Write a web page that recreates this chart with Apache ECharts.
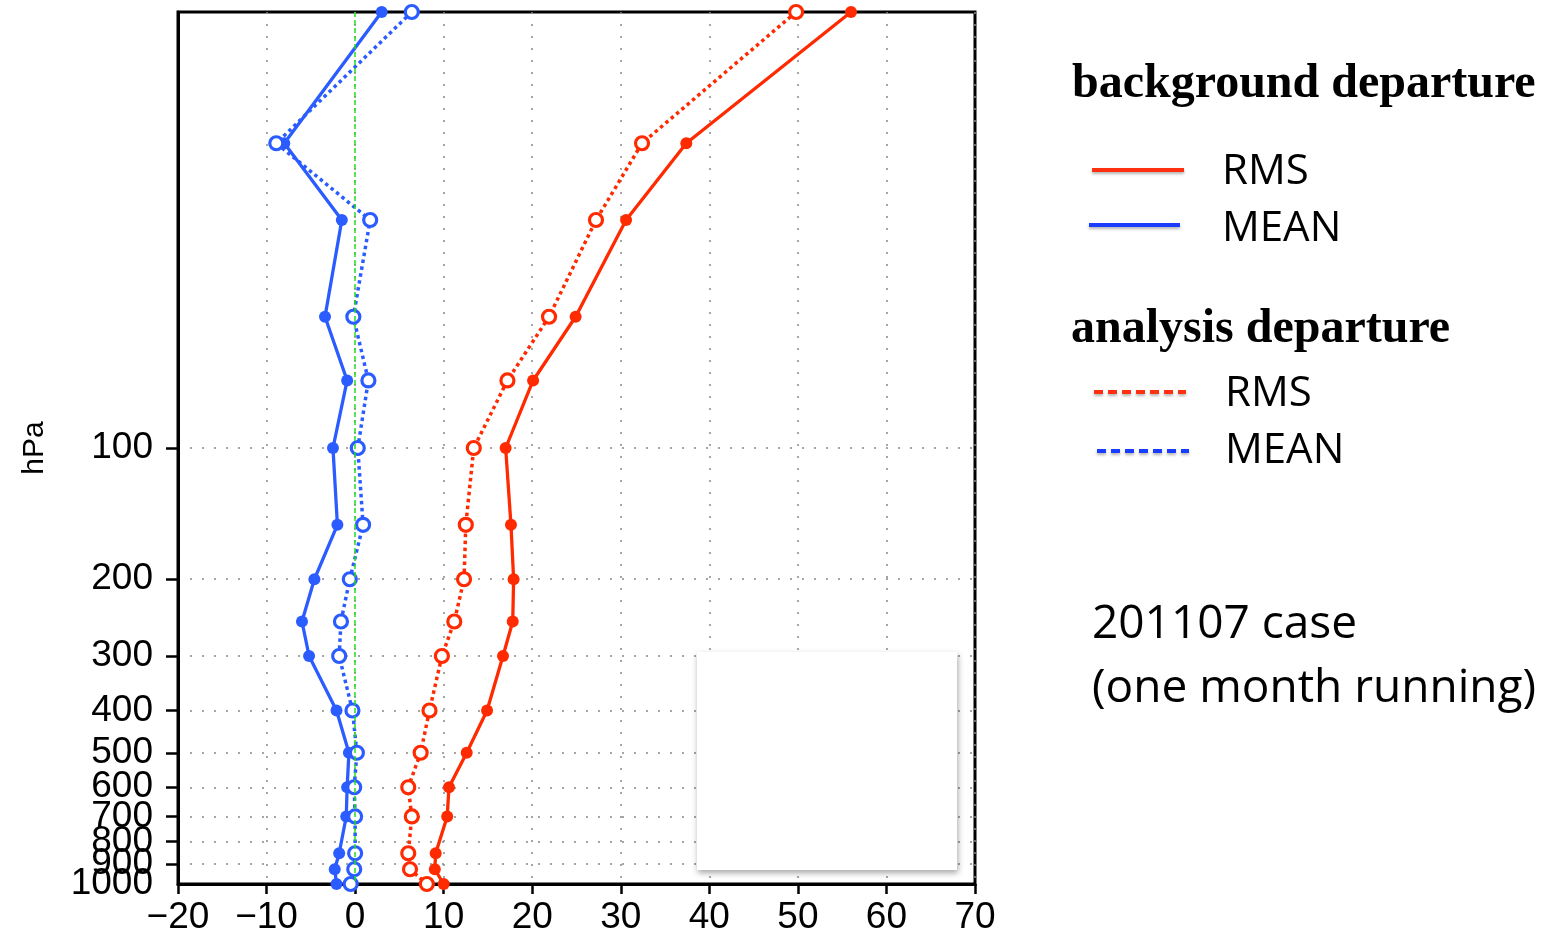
<!DOCTYPE html>
<html>
<head>
<meta charset="utf-8">
<script src="https://cdn.jsdelivr.net/npm/echarts@6/dist/echarts.min.js"></script>
<style>html,body{margin:0;padding:0;background:#fff;}#c{width:1545px;height:931px;}</style>
</head>
<body>
<div id="c"></div>
<script>
// Pressure levels (hPa)
const levels = [10, 20, 30, 50, 70, 100, 150, 200, 250, 300, 400, 500, 600, 700, 850, 925, 1000];
// background departure
const bgRms  = [56.0, 37.4, 30.6, 24.9, 20.1, 17.0, 17.6, 17.9, 17.8, 16.7, 14.9, 12.6, 10.6, 10.4, 9.1, 9.0, 10.0];
const bgMean = [3.0, -8.0, -1.5, -3.4, -0.9, -2.5, -2.0, -4.6, -6.0, -5.2, -2.1, -0.7, -0.9, -1.0, -1.8, -2.3, -2.1];
// analysis departure
const anRms  = [49.8, 32.4, 27.2, 21.9, 17.2, 13.4, 12.5, 12.3, 11.2, 9.8, 8.4, 7.4, 6.0, 6.4, 6.0, 6.2, 8.1];
const anMean = [6.4, -8.9, 1.7, -0.2, 1.5, 0.3, 0.9, -0.6, -1.6, -1.8, -0.3, 0.2, -0.1, 0.0, 0.0, -0.1, -0.5];
// tick labels
const pressureTicks = [100, 200, 300, 400, 500, 600, 700, 800, 900, 1000];
const xMin = -20, xMax = 70, xStep = 10;

const RED = '#ff2a00', BLUE = '#2b5cff';
const pair = arr => arr.map((v, i) => [v, levels[i]]);
const pMax = pressureTicks[pressureTicks.length - 1];

const chart = echarts.init(document.getElementById('c'));
const axisFont = { fontFamily: 'Liberation Sans', fontSize: 37, color: '#000' };

const yBase = {
  type: 'log', logBase: 10, min: 10, max: 1000, inverse: true, position: 'left'
};

chart.setOption({
  animation: false,
  backgroundColor: '#fff',
  grid: { left: 178, right: 570, top: 12, bottom: 47, show: true, borderColor: '#000', borderWidth: 3,
          backgroundColor: 'transparent', outerBoundsMode: 'none', containLabel: false },
  xAxis: {
    type: 'value', min: xMin, max: xMax, interval: xStep,
    axisLine: { show: true, onZero: false, lineStyle: { color: '#000', width: 3 } },
    axisTick: { show: true, inside: false, length: 10, lineStyle: { color: '#000', width: 2.5 } },
    axisLabel: Object.assign({ margin: 15, showMinLabel: true, showMaxLabel: true, hideOverlap: false,
      formatter: v => (v < 0 ? '\u2212' + Math.abs(v) : String(v)) }, axisFont),
    splitLine: { show: true, lineStyle: { color: '#888', width: 1.5, type: [2, 10] } }
  },
  yAxis: [
    Object.assign({}, yBase, {
      name: 'hPa', nameLocation: 'middle', nameRotate: 90, nameGap: 128,
      nameTextStyle: { fontFamily: 'Liberation Sans', fontSize: 30, color: '#000' },
      axisLine: { show: true, onZero: false, lineStyle: { color: '#000', width: 3 } },
      axisTick: { show: true, inside: false, length: 12, customValues: pressureTicks, lineStyle: { color: '#000', width: 2.5 } },
      axisLabel: Object.assign({ margin: 25, customValues: pressureTicks, showMinLabel: true, showMaxLabel: false, hideOverlap: false,
        formatter: v => String(Math.round(v)) }, axisFont),
      splitLine: { show: true, lineStyle: { color: '#888', width: 1.5, type: [2, 10] } },
      minorTick: { show: false }
    }),
    Object.assign({}, yBase, {
      axisLine: { show: false },
      axisTick: { show: false },
      splitLine: { show: false },
      axisLabel: Object.assign({ margin: 25, customValues: [pMax], showMinLabel: true, showMaxLabel: true, hideOverlap: false,
        formatter: v => String(Math.round(v)) }, axisFont)
    })
  ],
  series: [
    {
      name: 'background RMS', type: 'line', data: pair(bgRms), clip: true,
      symbol: 'circle', symbolSize: 12, color: RED,
      lineStyle: { color: RED, width: 3.3 }, itemStyle: { color: RED }, z: 3
    },
    {
      name: 'analysis RMS', type: 'line', data: pair(anRms), clip: true,
      symbol: 'circle', symbolSize: 13, color: RED,
      lineStyle: { color: RED, width: 3.5, type: [3.5, 3.5] }, itemStyle: { color: '#fff', borderColor: RED, borderWidth: 3.2 }, z: 3
    },
    {
      name: 'background MEAN', type: 'line', data: pair(bgMean), clip: true,
      symbol: 'circle', symbolSize: 12, color: BLUE,
      lineStyle: { color: BLUE, width: 3.3 }, itemStyle: { color: BLUE }, z: 3,
      markLine: {
        silent: true, symbol: 'none', label: { show: false },
        lineStyle: { color: '#22dd22', width: 1.5, type: [5, 3] },
        data: [{ xAxis: 0 }]
      }
    },
    {
      name: 'analysis MEAN', type: 'line', data: pair(anMean), clip: true,
      symbol: 'circle', symbolSize: 13, color: BLUE,
      lineStyle: { color: BLUE, width: 3.5, type: [3.5, 3.5] }, itemStyle: { color: '#fff', borderColor: BLUE, borderWidth: 3.2 }, z: 3
    }
  ],
  graphic: [
    { type: 'rect', z: 100, shape: { x: 697, y: 652, width: 260, height: 218 },
      style: { fill: '#fff', shadowBlur: 6, shadowColor: 'rgba(0,0,0,0.35)', shadowOffsetX: 1, shadowOffsetY: 3 } },
    { type: 'text', z: 100, x: 1072, y: 85, style: { text: 'background departure', font: 'bold 48px "Liberation Serif"', fill: '#000', verticalAlign: 'middle' } },
    { type: 'line', z: 100, shape: { x1: 1092, y1: 170, x2: 1184, y2: 170 }, style: { stroke: '#ff3010', lineWidth: 4, shadowBlur: 3, shadowColor: 'rgba(0,0,0,0.3)', shadowOffsetY: 2 } },
    { type: 'text', z: 100, x: 1222, y: 172, style: { text: 'RMS', font: '42px "Open Sans"', fill: '#000', verticalAlign: 'middle' } },
    { type: 'line', z: 100, shape: { x1: 1089, y1: 225, x2: 1180, y2: 225 }, style: { stroke: '#1a3cff', lineWidth: 4, shadowBlur: 3, shadowColor: 'rgba(0,0,0,0.3)', shadowOffsetY: 2 } },
    { type: 'text', z: 100, x: 1222, y: 229, style: { text: 'MEAN', font: '42px "Open Sans"', fill: '#000', verticalAlign: 'middle' } },
    { type: 'text', z: 100, x: 1071, y: 330, style: { text: 'analysis departure', font: 'bold 48px "Liberation Serif"', fill: '#000', verticalAlign: 'middle' } },
    { type: 'line', z: 100, shape: { x1: 1094, y1: 392, x2: 1186, y2: 392 }, style: { stroke: '#ff3010', lineWidth: 4, lineDash: [9, 5], shadowBlur: 3, shadowColor: 'rgba(0,0,0,0.3)', shadowOffsetY: 2 } },
    { type: 'text', z: 100, x: 1225, y: 394, style: { text: 'RMS', font: '42px "Open Sans"', fill: '#000', verticalAlign: 'middle' } },
    { type: 'line', z: 100, shape: { x1: 1097, y1: 451, x2: 1189, y2: 451 }, style: { stroke: '#1a3cff', lineWidth: 4, lineDash: [9, 5], shadowBlur: 3, shadowColor: 'rgba(0,0,0,0.3)', shadowOffsetY: 2 } },
    { type: 'text', z: 100, x: 1225, y: 451, style: { text: 'MEAN', font: '42px "Open Sans"', fill: '#000', verticalAlign: 'middle' } },
    { type: 'text', z: 100, x: 1092, y: 625, style: { text: '201107 case', font: '46px "Open Sans"', fill: '#000', verticalAlign: 'middle' } },
    { type: 'text', z: 100, x: 1092, y: 689, style: { text: '(one month running)', font: '46px "Open Sans"', fill: '#000', verticalAlign: 'middle' } }
  ]
});
</script>
</body>
</html>
